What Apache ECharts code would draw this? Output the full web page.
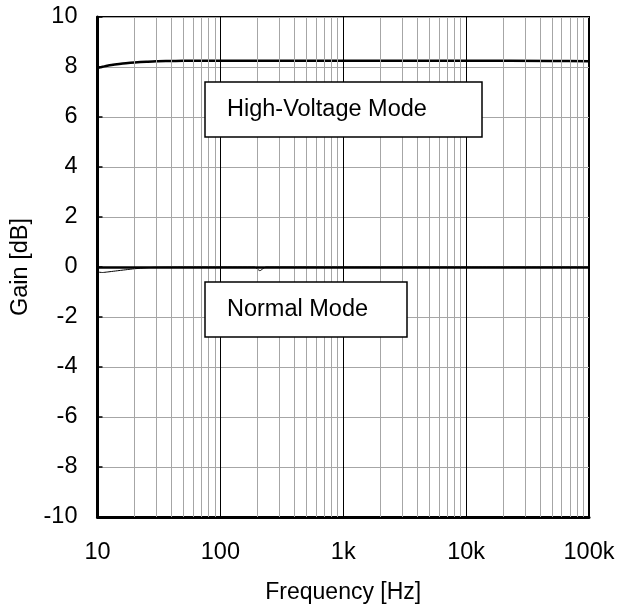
<!DOCTYPE html>
<html>
<head>
<meta charset="utf-8">
<script src="https://cdn.jsdelivr.net/npm/echarts@6/dist/echarts.min.js"></script>
<style>
html,body{margin:0;padding:0;background:#fff;}
#c{width:619px;height:609px;}
</style>
</head>
<body>
<div id="c"></div>
<script>
// ---- data ----
var hvFreq   = [10, 10.5, 11, 12, 13, 15, 17, 20, 25, 30, 40, 50, 100, 1000, 10000, 50000, 100000];
var hvGain   = [7.95, 7.99, 8.01, 8.05, 8.08, 8.12, 8.15, 8.18, 8.21, 8.23, 8.24, 8.25, 8.25, 8.25, 8.25, 8.24, 8.23];
var nmFreq   = [10, 11, 12, 14, 17, 20, 25, 30, 50, 100, 190, 200, 210, 220, 235, 500, 1000, 10000, 100000];
var nmGain   = [-0.2, -0.22, -0.2, -0.16, -0.11, -0.07, -0.03, -0.01, 0, 0, 0, -0.08, -0.15, -0.08, 0, 0, 0, 0, 0];
var xTickLabels = ['10', '100', '1k', '10k', '100k'];
var minorFreqs = [];
[10, 100, 1000, 10000].forEach(function (d) { for (var k = 2; k <= 9; k++) minorFreqs.push(d * k); });
var annotations = ['High-Voltage Mode', 'Normal Mode'];

var FONT = '"Liberation Sans", Arial, sans-serif';
var chart = echarts.init(document.getElementById('c'), null, {renderer: 'canvas'});

function pairs(xs, ys) { return xs.map(function (x, i) { return [x, ys[i]]; }); }

chart.setOption({
  animation: false,
  backgroundColor: '#fff',
  grid: { left: 97.5, right: 30, top: 17, bottom: 92, show: true, borderColor: '#000', borderWidth: 2, backgroundColor: 'transparent' },
  xAxis: {
    type: 'log', logBase: 10, min: 10, max: 100000,
    name: 'Frequency [Hz]', nameLocation: 'middle', nameGap: 64,
    nameTextStyle: { fontFamily: FONT, fontSize: 23, color: '#000' },
    axisLine: { show: true, onZero: false, lineStyle: { color: '#000', width: 3 } },
    axisTick: { show: false },
    axisLabel: { fontFamily: FONT, fontSize: 23.5, color: '#000', margin: 24,
      formatter: function (v) { return xTickLabels[Math.round(Math.log10(v)) - 1]; } },
    splitLine: { show: true, lineStyle: { color: '#000', width: 1 } },
    minorTick: { show: false }, minorSplitLine: { show: false }
  },
  yAxis: {
    type: 'value', min: -10, max: 10, interval: 2,
    name: 'Gain [dB]', nameLocation: 'middle', nameGap: 65,
    nameTextStyle: { fontFamily: FONT, fontSize: 23.5, color: '#000' },
    axisLine: { show: true, onZero: false, lineStyle: { color: '#000', width: 3 } },
    axisTick: { show: true, inside: true, length: 5, lineStyle: { color: '#000', width: 1.5 } },
    axisLabel: { fontFamily: FONT, fontSize: 23.5, color: '#000', margin: 20 },
    splitLine: { show: true, lineStyle: { color: '#a6a6a6', width: 1 } }
  },
  series: [
    {
      type: 'line', data: [], z: 1, silent: true,
      markLine: {
        silent: true, symbol: 'none', animation: false,
        label: { show: false },
        lineStyle: { color: '#a6a6a6', width: 1, type: 'solid' },
        data: minorFreqs.map(function (f) { return { xAxis: f }; })
      }
    },
    {
      type: 'line', data: pairs(nmFreq, nmGain), z: 3,
      showSymbol: false, symbol: 'none', smooth: 0.2,
      lineStyle: { color: '#000', width: 1 },
      markLine: {
        silent: true, symbol: 'none', animation: false,
        label: { show: false },
        lineStyle: { color: '#000', width: 2.5, type: 'solid' },
        data: [{ yAxis: 0 }]
      }
    },
    {
      type: 'line', data: pairs(hvFreq, hvGain), z: 4,
      showSymbol: false, symbol: 'none', smooth: 0.3,
      lineStyle: { color: '#000', width: 2.5 }
    }
  ],
  graphic: [
    { type: 'rect', z: 100, zlevel: 1, shape: { x: 205, y: 82, width: 277, height: 55 }, style: { fill: '#fff', stroke: '#000', lineWidth: 1.5 } },
    { type: 'text', z: 101, zlevel: 1, x: 227, y: 110, style: { text: annotations[0], font: '23.5px ' + FONT, fill: '#000', verticalAlign: 'middle' } },
    { type: 'rect', z: 100, zlevel: 1, shape: { x: 205, y: 282, width: 202, height: 55 }, style: { fill: '#fff', stroke: '#000', lineWidth: 1.5 } },
    { type: 'text', z: 101, zlevel: 1, x: 227, y: 310, style: { text: annotations[1], font: '23.5px ' + FONT, fill: '#000', verticalAlign: 'middle' } }
  ]
});
</script>
</body>
</html>
